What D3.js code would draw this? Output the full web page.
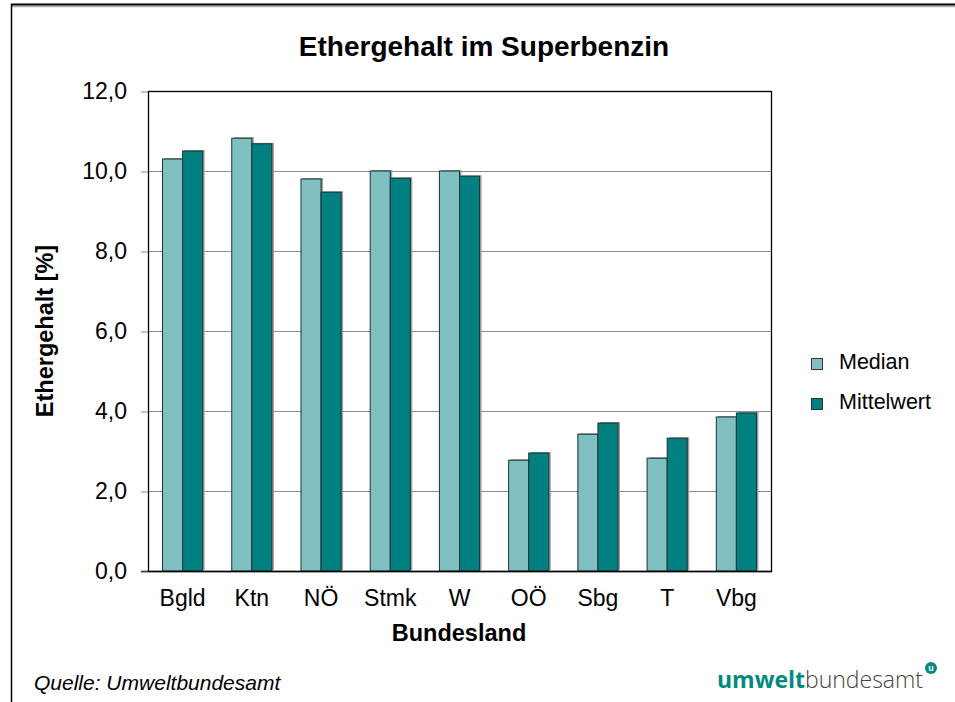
<!DOCTYPE html>
<html>
<head>
<meta charset="utf-8">
<script src="https://cdn.jsdelivr.net/npm/d3@7"></script>
<style>
  body { margin: 0; background: #fff; }
  text { font-family: "Liberation Sans", Arial, sans-serif; }
</style>
</head>
<body>
<svg id="chart" width="955" height="702"></svg>
<script>
// data
var laender = ["Bgld", "Ktn", "NÖ", "Stmk", "W", "OÖ", "Sbg", "T", "Vbg"];
var median = [10.3, 10.82, 9.8, 10.0, 10.0, 2.77, 3.42, 2.82, 3.85];
var mittelwert = [10.5, 10.68, 9.47, 9.82, 9.87, 2.95, 3.7, 3.32, 3.95];
var serien = ["Median", "Mittelwert"];
var yTicks = [0, 2, 4, 6, 8, 10, 12];

var farben = {"Median": "#80c0c0", "Mittelwert": "#008080"};

var svg = d3.select("#chart");

// outer frame (only top + left visible)
svg.append("line").attr("x1", 11).attr("x2", 955).attr("y1", 6.5).attr("y2", 6.5)
  .attr("stroke", "#aaa").attr("stroke-width", 1.5);
svg.append("line").attr("x1", 11).attr("x2", 955).attr("y1", 4.5).attr("y2", 4.5)
  .attr("stroke", "#000").attr("stroke-width", 2);
svg.append("line").attr("x1", 11.5).attr("x2", 11.5).attr("y1", 4).attr("y2", 702)
  .attr("stroke", "#000").attr("stroke-width", 1.5);

var m = {left: 148, right: 771, top: 91, bottom: 571};

var x = d3.scaleBand().domain(laender).range([m.left, m.right]).paddingInner(0.42).paddingOuter(0.21);
var xs = d3.scaleBand().domain(serien).range([0, x.bandwidth()]);
var y = d3.scaleLinear().domain([0, 12]).range([m.bottom, m.top]);

var g = svg.append("g");

// gridlines
g.selectAll(".grid").data(yTicks.filter(function(d){ return d > 0 && d < 12; }))
  .enter().append("line")
  .attr("x1", m.left).attr("x2", m.right)
  .attr("y1", function(d){ return Math.round(y(d)) + 0.5; })
  .attr("y2", function(d){ return Math.round(y(d)) + 0.5; })
  .attr("stroke", "#8c8c8c").attr("stroke-width", 1.2);

// plot frame
g.append("rect").attr("x", m.left + 0.5).attr("y", m.top + 0.5)
  .attr("width", m.right - m.left).attr("height", m.bottom - m.top)
  .attr("fill", "none").attr("stroke", "#000").attr("stroke-width", 1.3);

var rows = laender.map(function(l, i){
  return [{land: l, s: "Median", v: median[i]}, {land: l, s: "Mittelwert", v: mittelwert[i]}];
});
var flat = [].concat.apply([], rows);

// shadows
g.selectAll(".shadow").data(flat).enter().append("rect")
  .attr("x", function(d){ return x(d.land) + xs(d.s) + 2; })
  .attr("y", function(d){ return y(d.v) - 1; })
  .attr("width", xs.bandwidth())
  .attr("height", function(d){ return m.bottom - y(d.v); })
  .attr("fill", "#a0a0a0");

g.selectAll(".bar").data(flat).enter().append("rect")
  .attr("x", function(d){ return x(d.land) + xs(d.s); })
  .attr("y", function(d){ return y(d.v); })
  .attr("width", xs.bandwidth())
  .attr("height", function(d){ return m.bottom - y(d.v); })
  .attr("fill", function(d){ return farben[d.s]; })
  .attr("stroke", "#1a3333").attr("stroke-width", 1);

// redraw bottom axis line
g.append("line").attr("x1", m.left - 7).attr("x2", m.right + 1)
  .attr("y1", m.bottom + 0.5).attr("y2", m.bottom + 0.5)
  .attr("stroke", "#000").attr("stroke-width", 1.5);

// y axis
var yAxis = d3.axisLeft(y).tickValues(yTicks).tickSize(7).tickPadding(14)
  .tickFormat(function(d){ return d3.format(".1f")(d).replace(".", ","); });
var ya = svg.append("g").attr("transform", "translate(" + m.left + ",0.5)").call(yAxis);
ya.select(".domain").remove();
ya.selectAll(".tick line").attr("stroke", "#888");
ya.selectAll("text").attr("font-size", 23).attr("fill", "#000")
  .style("font-family", "Liberation Sans, Arial, sans-serif");

// x axis
var xAxis = d3.axisBottom(x).tickSize(0).tickPadding(19);
var xa = svg.append("g").attr("transform", "translate(0," + m.bottom + ")").call(xAxis);
xa.select(".domain").remove();
xa.selectAll("text").attr("font-size", 23).attr("fill", "#000")
  .style("font-family", "Liberation Sans, Arial, sans-serif");

// titles
svg.append("text").attr("x", 484).attr("y", 56).attr("text-anchor", "middle")
  .attr("font-size", 28).attr("font-weight", "bold").text("Ethergehalt im Superbenzin");
svg.append("text").attr("x", 459).attr("y", 641).attr("text-anchor", "middle")
  .attr("font-size", 23.5).attr("font-weight", "bold").text("Bundesland");
svg.append("text").attr("transform", "translate(53,331) rotate(-90)").attr("text-anchor", "middle")
  .attr("font-size", 23.5).attr("font-weight", "bold").text("Ethergehalt [%]");

// legend
var leg = svg.append("g").selectAll("g").data(serien).enter().append("g")
  .attr("transform", function(d, i){ return "translate(811," + (358 + i * 40) + ")"; });
leg.append("rect").attr("x", 0.5).attr("y", 0.5).attr("width", 11).attr("height", 11)
  .attr("fill", function(d){ return farben[d]; }).attr("stroke", "#333").attr("stroke-width", 1);
leg.append("text").attr("x", 28).attr("y", 11).attr("font-size", 21.5).text(function(d){ return d; });

// source
svg.append("text").attr("x", 34).attr("y", 690).attr("font-size", 21)
  .attr("font-style", "italic").text("Quelle: Umweltbundesamt");

// logo
var logo = svg.append("text").attr("x", 717).attr("y", 688).attr("font-size", 23)
  .style("font-family", "Open Sans, Liberation Sans, sans-serif");
logo.append("tspan").attr("font-weight", "bold").attr("fill", "#008a80").text("umwelt");
logo.append("tspan").attr("fill", "#444").attr("font-weight", 300).text("bundesamt");
svg.append("circle").attr("cx", 931).attr("cy", 668).attr("r", 6).attr("fill", "#008a80");
svg.append("text").attr("x", 931).attr("y", 671).attr("text-anchor", "middle")
  .attr("font-size", 9).attr("font-weight", "bold").attr("fill", "#fff").text("u");
</script>
</body>
</html>
